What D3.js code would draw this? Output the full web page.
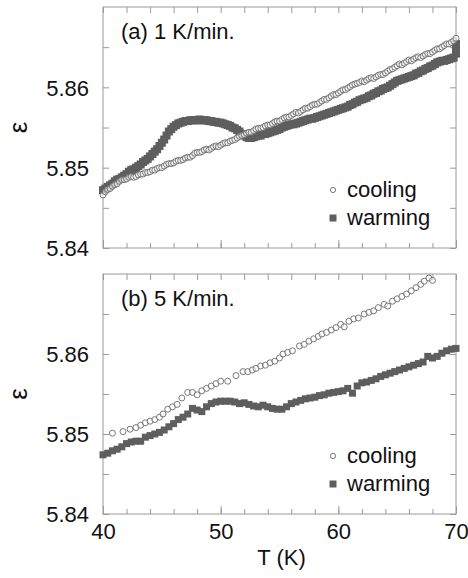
<!DOCTYPE html>
<html>
<head>
<meta charset="utf-8">
<script src="https://cdn.jsdelivr.net/npm/d3@7"></script>
<style>
  html, body { margin: 0; padding: 0; background: #fff; }
  svg { display: block; }
  text { font-family: "Liberation Sans", Arial, Helvetica, sans-serif; fill: #111; }
</style>
</head>
<body>
<svg id="chart" width="468" height="578"></svg>
<script>
// ---------- DATA ----------
const panelLabels = ["(a) 1 K/min.", "(b) 5 K/min."];
const seriesNames = ["cooling", "warming"];
const xTickValues = [40, 50, 60, 70];
const yTickValues = [5.84, 5.85, 5.86];
const xAxisTitle = "T (K)";
const yAxisTitle = "ε";

// Panel (a) 1 K/min : shared temperature grid
const aT = [40.0,40.2,40.4,40.6,40.8,41.0,41.2,41.4,41.6,41.8,42.0,42.2,42.4,42.6,42.8,43.0,43.2,43.4,43.6,43.8,44.0,44.2,44.4,44.6,44.8,45.0,45.2,45.4,45.6,45.8,46.0,46.2,46.4,46.6,46.8,47.0,47.2,47.4,47.6,47.8,48.0,48.2,48.4,48.6,48.8,49.0,49.2,49.4,49.6,49.8,50.0,50.2,50.4,50.6,50.8,51.0,51.2,51.4,51.6,51.8,52.0,52.2,52.4,52.6,52.8,53.0,53.2,53.4,53.6,53.8,54.0,54.2,54.4,54.6,54.8,55.0,55.2,55.4,55.6,55.8,56.0,56.2,56.4,56.6,56.8,57.0,57.2,57.4,57.6,57.8,58.0,58.2,58.4,58.6,58.8,59.0,59.2,59.4,59.6,59.8,60.0,60.2,60.4,60.6,60.8,61.0,61.2,61.4,61.6,61.8,62.0,62.2,62.4,62.6,62.8,63.0,63.2,63.4,63.6,63.8,64.0,64.2,64.4,64.6,64.8,65.0,65.2,65.4,65.6,65.8,66.0,66.2,66.4,66.6,66.8,67.0,67.2,67.4,67.6,67.8,68.0,68.2,68.4,68.6,68.8,69.0,69.2,69.4,69.6,69.8,70.0];
const aCoolE = [5.8466,5.8470,5.8473,5.8474,5.8477,5.8479,5.8480,5.8483,5.8485,5.8485,5.8486,5.8488,5.8489,5.8488,5.8489,5.8491,5.8492,5.8492,5.8494,5.8494,5.8495,5.8497,5.8497,5.8499,5.8500,5.8500,5.8502,5.8504,5.8505,5.8505,5.8506,5.8508,5.8509,5.8509,5.8510,5.8512,5.8513,5.8513,5.8515,5.8518,5.8519,5.8519,5.8520,5.8522,5.8523,5.8522,5.8524,5.8526,5.8527,5.8526,5.8528,5.8530,5.8531,5.8531,5.8533,5.8534,5.8535,5.8537,5.8539,5.8540,5.8541,5.8543,5.8544,5.8544,5.8546,5.8548,5.8549,5.8549,5.8550,5.8552,5.8553,5.8553,5.8555,5.8557,5.8558,5.8558,5.8560,5.8562,5.8563,5.8563,5.8565,5.8567,5.8569,5.8568,5.8570,5.8572,5.8574,5.8574,5.8576,5.8578,5.8579,5.8579,5.8581,5.8583,5.8585,5.8585,5.8587,5.8589,5.8591,5.8591,5.8593,5.8595,5.8597,5.8597,5.8599,5.8601,5.8603,5.8604,5.8605,5.8606,5.8608,5.8607,5.8609,5.8611,5.8612,5.8611,5.8613,5.8615,5.8616,5.8616,5.8618,5.8620,5.8622,5.8623,5.8625,5.8627,5.8629,5.8628,5.8630,5.8632,5.8634,5.8633,5.8635,5.8637,5.8638,5.8637,5.8639,5.8641,5.8642,5.8642,5.8644,5.8646,5.8648,5.8648,5.8650,5.8652,5.8654,5.8654,5.8656,5.8658,5.8661];
const aWarmE = [5.8472,5.8474,5.8476,5.8478,5.8480,5.8483,5.8485,5.8486,5.8488,5.8490,5.8492,5.8495,5.8497,5.8498,5.8500,5.8502,5.8504,5.8507,5.8509,5.8511,5.8514,5.8517,5.8520,5.8523,5.8527,5.8531,5.8535,5.8540,5.8545,5.8548,5.8551,5.8553,5.8555,5.8556,5.8557,5.8558,5.8558,5.8559,5.8559,5.8559,5.8559,5.8560,5.8559,5.8559,5.8559,5.8558,5.8558,5.8557,5.8557,5.8556,5.8556,5.8555,5.8554,5.8553,5.8552,5.8550,5.8549,5.8547,5.8545,5.8542,5.8540,5.8538,5.8537,5.8537,5.8538,5.8539,5.8540,5.8540,5.8542,5.8542,5.8543,5.8544,5.8545,5.8546,5.8547,5.8548,5.8550,5.8551,5.8552,5.8553,5.8554,5.8554,5.8555,5.8556,5.8557,5.8558,5.8559,5.8560,5.8561,5.8561,5.8562,5.8563,5.8564,5.8565,5.8566,5.8567,5.8568,5.8569,5.8570,5.8571,5.8572,5.8573,5.8574,5.8575,5.8576,5.8578,5.8579,5.8581,5.8582,5.8584,5.8585,5.8586,5.8587,5.8589,5.8590,5.8592,5.8593,5.8595,5.8596,5.8598,5.8599,5.8600,5.8602,5.8604,5.8606,5.8608,5.8609,5.8610,5.8611,5.8612,5.8613,5.8614,5.8615,5.8617,5.8618,5.8620,5.8621,5.8623,5.8624,5.8626,5.8627,5.8629,5.8631,5.8632,5.8633,5.8633,5.8634,5.8635,5.8636,5.8637,5.8642];
// extra warming points at the end of the run (vertical streak at 70 K)
const aWarmEndT = [70.0, 70.0];
const aWarmEndE = [5.8648, 5.8654];

// Panel (b) 5 K/min
const bCoolT = [40.8,41.7,42.3,42.8,43.2,43.6,44.0,44.4,44.8,45.1,45.5,45.9,46.3,46.7,47.2,47.6,48.0,48.4,48.8,49.2,49.6,50.0,50.6,51.3,51.9,52.3,52.7,53.0,53.4,53.8,54.2,54.6,55.0,55.3,55.7,56.1,56.7,57.1,57.5,57.9,58.3,58.6,59.0,59.4,59.8,60.2,60.5,60.9,61.3,61.7,62.2,62.6,63.0,63.4,63.9,64.2,64.6,65.0,65.4,65.8,66.2,66.6,67.0,67.3,67.7,68.0];
const bCoolE = [5.8501,5.8503,5.8506,5.8508,5.8511,5.8514,5.8516,5.8518,5.8521,5.8525,5.8531,5.8534,5.8537,5.8545,5.8552,5.8552,5.8549,5.8554,5.8557,5.8560,5.8563,5.8566,5.8566,5.8573,5.8578,5.8578,5.8580,5.8582,5.8585,5.8586,5.8589,5.8591,5.8595,5.8600,5.8602,5.8604,5.8610,5.8612,5.8616,5.8619,5.8622,5.8625,5.8627,5.8630,5.8633,5.8637,5.8634,5.8641,5.8644,5.8645,5.8650,5.8652,5.8654,5.8658,5.8662,5.8660,5.8666,5.8669,5.8672,5.8675,5.8679,5.8683,5.8687,5.8691,5.8695,5.8692];
const bWarmT = [40.0,40.4,40.8,41.2,41.6,42.0,42.4,42.8,43.2,43.6,44.0,44.4,44.8,45.2,45.6,46.0,46.4,46.8,47.2,47.6,48.0,48.4,48.8,49.2,49.6,50.0,50.4,50.8,51.2,51.6,52.0,52.4,52.8,53.2,53.6,54.0,54.4,54.8,55.2,55.6,56.0,56.4,56.8,57.2,57.6,58.0,58.4,58.8,59.2,59.6,60.0,60.4,60.8,61.2,61.6,62.0,62.4,62.8,63.2,63.6,64.0,64.4,64.8,65.2,65.6,66.0,66.4,66.8,67.2,67.6,68.0,68.4,68.8,69.2,69.6,70.0];
const bWarmE = [5.8474,5.8476,5.8479,5.8481,5.8484,5.8488,5.8490,5.8491,5.8491,5.8496,5.8498,5.8500,5.8502,5.8505,5.8509,5.8513,5.8518,5.8521,5.8525,5.8532,5.8530,5.8528,5.8534,5.8538,5.8540,5.8541,5.8541,5.8541,5.8540,5.8538,5.8539,5.8537,5.8535,5.8534,5.8536,5.8534,5.8532,5.8531,5.8531,5.8534,5.8538,5.8540,5.8542,5.8544,5.8545,5.8546,5.8548,5.8549,5.8551,5.8552,5.8553,5.8554,5.8557,5.8551,5.8560,5.8564,5.8565,5.8567,5.8569,5.8572,5.8574,5.8576,5.8578,5.8580,5.8582,5.8584,5.8586,5.8588,5.8590,5.8597,5.8595,5.8597,5.8601,5.8604,5.8606,5.8607];

// ---------- DRAW ----------
const svg = d3.select("#chart");
const left = 103, right = 456;
const panels = [
  { top: 7, bottom: 248, label: panelLabels[0],
    cT: aT, cE: aCoolE, wT: aT.concat(aWarmEndT), wE: aWarmE.concat(aWarmEndE), showX: false, sq: 8 },
  { top: 274, bottom: 514, label: panelLabels[1],
    cT: bCoolT, cE: bCoolE, wT: bWarmT, wE: bWarmE, showX: true, sq: 7 }
];
const x = d3.scaleLinear().domain([40, 70]).range([left, right]);
const frameColor = "#9a9a9a";
const fontSize = 22;

panels.forEach(p => {
  const y = d3.scaleLinear().domain([5.84, 5.87]).range([p.bottom, p.top]);
  const g = svg.append("g");

  g.append("rect").attr("x", left).attr("y", p.top)
    .attr("width", right - left).attr("height", p.bottom - p.top)
    .attr("fill", "none").attr("stroke", frameColor).attr("stroke-width", 1);

  const xMinor = d3.range(40, 70.001, 2);
  const yMinor = [5.845, 5.855, 5.865];
  const styleAxis = sel => {
    sel.select(".domain").remove();
    sel.selectAll(".tick line").attr("stroke", frameColor);
    sel.selectAll(".tick text").attr("fill", "#111")
      .style("font-family", '"Liberation Sans", Arial, sans-serif').style("font-size", fontSize + "px");
  };
  g.append("g").attr("transform", `translate(0,${p.bottom})`)
    .call(d3.axisTop(x).tickValues(xMinor).tickSize(5).tickFormat(""))
    .call(styleAxis);
  g.append("g").attr("transform", `translate(0,${p.bottom})`)
    .call(d3.axisTop(x).tickValues(xTickValues).tickSize(8).tickFormat(""))
    .call(styleAxis);
  g.append("g").attr("transform", `translate(0,${p.top})`)
    .call(d3.axisBottom(x).tickValues(xMinor).tickSize(6).tickFormat(""))
    .call(styleAxis);
  g.append("g").attr("transform", `translate(${left},0)`)
    .call(d3.axisRight(y).tickValues(yTickValues.concat(yMinor)).tickSize(6).tickFormat(""))
    .call(styleAxis);
  g.append("g").attr("transform", `translate(${right},0)`)
    .call(d3.axisLeft(y).tickValues(yTickValues.concat(yMinor)).tickSize(6).tickFormat(""))
    .call(styleAxis);

  g.append("g").attr("transform", `translate(${left},0)`)
    .call(d3.axisLeft(y).tickValues(yTickValues).tickSize(0).tickPadding(14).tickFormat(d3.format(".2f")))
    .call(styleAxis)
    .selectAll(".tick text").attr("dy", "0.36em");

  if (p.showX) {
    g.append("g").attr("transform", `translate(0,${p.bottom})`)
      .call(d3.axisBottom(x).tickValues(xTickValues).tickSize(0).tickPadding(9).tickFormat(d3.format("d")))
      .call(styleAxis);
    g.append("text").attr("x", (left + right) / 2 + 2).attr("y", 565)
      .attr("text-anchor", "middle").style("font-size", fontSize + "px").text(xAxisTitle);
  }

  g.append("text")
    .attr("transform", `translate(27,${(p.top + p.bottom) / 2}) rotate(-90)`)
    .attr("text-anchor", "middle").style("font-size", "26px").text(yAxisTitle);

  g.append("text").attr("x", 121).attr("y", p.top + 32)
    .style("font-size", fontSize + "px").text(p.label);

  const sq = p.sq;
  const wData = p.wT.map((t, i) => [t, p.wE[i]]);
  g.append("g").selectAll("rect").data(wData).join("rect")
    .attr("x", d => x(d[0]) - sq / 2).attr("y", d => y(d[1]) - sq / 2)
    .attr("width", sq).attr("height", sq).attr("fill", "#5e5e5e");

  const cData = p.cT.map((t, i) => [t, p.cE[i]]);
  g.append("g").selectAll("circle").data(cData).join("circle")
    .attr("cx", d => x(d[0])).attr("cy", d => y(d[1])).attr("r", 3)
    .attr("fill", "#fff").attr("fill-opacity", 0.5)
    .attr("stroke", "#6a6a6a").attr("stroke-width", 0.9);

  const lx = 333, ly1 = p.bottom - 58, ly2 = p.bottom - 30;
  g.append("circle").attr("cx", lx).attr("cy", ly1).attr("r", 2.6)
    .attr("fill", "#fff").attr("stroke", "#6a6a6a").attr("stroke-width", 0.9);
  g.append("rect").attr("x", lx - 3.5).attr("y", ly2 - 3.5).attr("width", 7).attr("height", 7)
    .attr("fill", "#5e5e5e");
  g.append("text").attr("x", 347).attr("y", ly1 + 7).style("font-size", fontSize + "px").text(seriesNames[0]);
  g.append("text").attr("x", 347).attr("y", ly2 + 7).style("font-size", fontSize + "px").text(seriesNames[1]);
});
</script>
</body>
</html>
